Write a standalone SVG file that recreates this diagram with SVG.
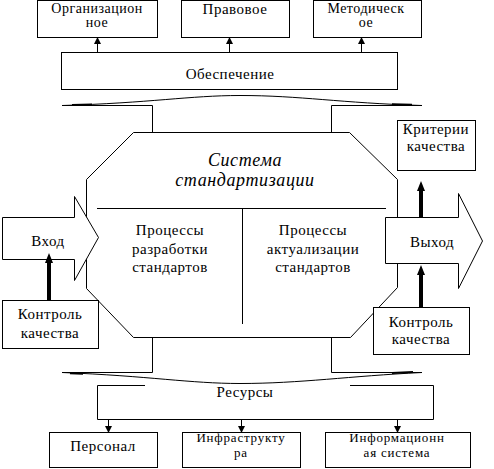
<svg xmlns="http://www.w3.org/2000/svg" width="494" height="469" viewBox="0 0 494 469">
<defs>
<style>
.b{fill:#fff;stroke:#000;stroke-width:1}
.l{fill:none;stroke:#000;stroke-width:1}
.t{font-family:"Liberation Serif","Times New Roman",serif;font-size:15px;letter-spacing:0.5px;fill:#000;text-anchor:middle}
.s{font-size:14px}
.xs{font-size:13px;letter-spacing:0.8px}
.i{font-family:"Liberation Serif","Times New Roman",serif;font-size:18px;font-style:italic;letter-spacing:0.6px;fill:#000;text-anchor:middle}
.thin{stroke:#000;stroke-width:1}
.thick{stroke:#000;stroke-width:4}
</style>
<marker id="ah" markerWidth="7" markerHeight="7" refX="6" refY="3.5" orient="auto" markerUnits="userSpaceOnUse">
<path d="M0,0 L7,3.5 L0,7 Z" fill="#000"/>
</marker>
</defs>
<rect width="494" height="469" fill="#fff"/>

<g id="system">
<polygon class="b" points="133.5,132.5 349.5,132.5 397.5,179.5 397.5,287.5 350.5,337.5 133.5,337.5 86.5,288.5 86.5,179.5"/>
<line class="l" x1="97" y1="208.5" x2="386" y2="208.5"/>
<line class="l" x1="242.5" y1="208.5" x2="242.5" y2="324"/>
<text class="i" x="245" y="166">Система</text>
<text class="i" x="245" y="186">стандартизации</text>
</g>

<g id="proc1"><text class="t" x="170" y="235">Процессы</text><text class="t" x="170" y="254">разработки</text><text class="t" x="170" y="272">стандартов</text></g>
<g id="proc2"><text class="t" x="313" y="235">Процессы</text><text class="t" x="313" y="254">актуализации</text><text class="t" x="313" y="272">стандартов</text></g>

<g id="supply">
<rect class="b" x="61.5" y="52.5" width="336" height="37"/>
<text class="t" x="230" y="79">Обеспечение</text>
</g>
<g id="org"><rect class="b" x="37.5" y="0.5" width="120" height="37"/><text class="t s" x="97" y="13">Организацион</text><text class="t s" x="97" y="27">ное</text></g>
<g id="legal"><rect class="b" x="181.5" y="0.5" width="108" height="37"/><text class="t" x="235" y="14">Правовое</text></g>
<g id="method"><rect class="b" x="313.5" y="0.5" width="108" height="37"/><text class="t s" x="366" y="13">Методическ</text><text class="t s" x="366" y="27">ое</text></g>

<g id="resources">
<path class="l" d="M145,385.5 H97.5 V419.5 H433.5 V385.5 H350"/>
<text class="t" x="245" y="397">Ресурсы</text>
</g>
<g id="staff"><rect class="b" x="49.5" y="432.5" width="108" height="35"/><text class="t" x="103" y="451">Персонал</text></g>
<g id="infra"><rect class="b" x="182.5" y="432.5" width="118" height="35"/><text class="t xs" x="241" y="442">Инфраструкту</text><text class="t xs" x="241" y="456.5">ра</text></g>
<g id="info"><rect class="b" x="325.5" y="432.5" width="145" height="35"/><text class="t xs" x="397" y="442">Информационн</text><text class="t xs" x="397" y="456.5">ая система</text></g>

<g id="criteria"><rect class="b" x="397.5" y="120.5" width="78" height="50"/><text class="t" x="436" y="134">Критерии</text><text class="t" x="436" y="151">качества</text></g>

<g id="input"><polygon class="b" points="2.5,217.5 74.5,217.5 74.5,196.5 98.5,237.5 74.5,280.5 74.5,259.5 2.5,259.5"/><text class="t" x="48" y="246">Вход</text></g>
<g id="output"><polygon class="b" points="385.5,217.5 458.5,217.5 458.5,193.5 482.5,241 458.5,288.5 458.5,263.5 385.5,263.5"/><text class="t" x="432" y="247">Выход</text></g>

<g id="qc-left"><rect class="b" x="2.5" y="300.5" width="96" height="48"/><text class="t" x="50" y="319">Контроль</text><text class="t" x="50" y="338">качества</text></g>
<g id="qc-right"><rect class="b" x="373.5" y="307.5" width="96" height="47"/><text class="t" x="421" y="327">Контроль</text><text class="t" x="421" y="344">качества</text></g>

<g id="connectors">
<path class="l" d="M62,105.5 H152.5 V132"/>
<path class="l" d="M422,105.5 H331.5 V132"/>
<path class="l" d="M62,105.5 C150,103 190,95.5 240,95.5 C300,95.5 340,103 422,105.5"/>
<line x1="72" y1="105" x2="92" y2="104.5" stroke="#000" stroke-width="2"/>
<line x1="392" y1="104.3" x2="412" y2="104.8" stroke="#000" stroke-width="2"/>
<path class="l" d="M152.5,338 V372.5 H62"/>
<path class="l" d="M331.5,338 V372.5 H422"/>
<path class="l" d="M62,372.5 C150,376 190,383.5 240,383.5 C300,383.5 350,376 422,372.5"/>
<line x1="70" y1="373.2" x2="83" y2="373.8" stroke="#000" stroke-width="2"/>
<line x1="392" y1="373" x2="413" y2="372" stroke="#000" stroke-width="2"/>
<line class="thin" x1="97.5" y1="52" x2="97.5" y2="38" marker-end="url(#ah)"/>
<line class="thin" x1="229.5" y1="52" x2="229.5" y2="38" marker-end="url(#ah)"/>
<line class="thin" x1="361.5" y1="52" x2="361.5" y2="38" marker-end="url(#ah)"/>
<line class="thin" x1="108.5" y1="420" x2="108.5" y2="432" marker-end="url(#ah)"/>
<line class="thin" x1="241.5" y1="420" x2="241.5" y2="432" marker-end="url(#ah)"/>
<line class="thin" x1="397.5" y1="420" x2="397.5" y2="432" marker-end="url(#ah)"/>
<line class="thick" x1="49" y1="300" x2="49" y2="262"/>
<polygon points="45,263 53,263 49,253" fill="#000"/>
<line class="thick" x1="421" y1="217" x2="421" y2="190"/>
<polygon points="417,191 425,191 421,181" fill="#000"/>
<line class="thick" x1="421" y1="307" x2="421" y2="274"/>
<polygon points="417,275 425,275 421,265" fill="#000"/>
</g>
</svg>
